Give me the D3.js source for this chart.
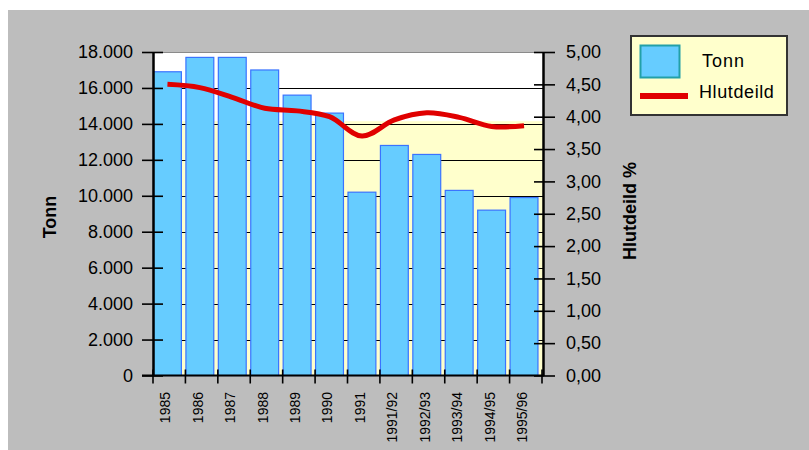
<!DOCTYPE html>
<html>
<head>
<meta charset="utf-8">
<script src="https://cdn.jsdelivr.net/npm/d3@7"></script>
<style>
  html, body { margin: 0; padding: 0; background: #fff; }
  svg { display: block; font-family: Arial, "Liberation Sans", sans-serif; }
</style>
</head>
<body>
<svg id="chart" width="809" height="450"></svg>
<script>
// data
const years = ["1985", "1986", "1987", "1988", "1989", "1990", "1991",
               "1991/92", "1992/93", "1993/94", "1994/95", "1995/96"];
const tonn = [16900, 17700, 17700, 17000, 15600, 14600, 10200,
              12800, 12300, 10300, 9200, 9900];
const hlutdeild = [4.50, 4.45, 4.30, 4.13, 4.09, 4.00, 3.70,
                   3.95, 4.06, 3.99, 3.85, 3.86];
const leftTicks = [0, 2000, 4000, 6000, 8000, 10000, 12000, 14000, 16000, 18000];
const rightTicks = [0, 0.5, 1, 1.5, 2, 2.5, 3, 3.5, 4, 4.5, 5];
const yellowLevel = 14150; // where the pale yellow wall starts

const locale = d3.formatLocale({ decimal: ",", thousands: ".", grouping: [3], currency: ["", " kr"] });
const fmtLeft = locale.format(",.0f");
const fmtRight = locale.format(".2f");

const svg = d3.select("#chart");
const plot = { left: 153, right: 543, top: 52, bottom: 375.5 };

// background: white strips at top/left, gray elsewhere
svg.append("rect").attr("x", 8).attr("y", 10).attr("width", 801).attr("height", 440).attr("fill", "#bdbdbd");

const x = d3.scaleBand().domain(years).range([plot.left, plot.right - 1]).padding(0);
const yL = d3.scaleLinear().domain([0, 18000]).range([plot.bottom, plot.top]);
const yR = d3.scaleLinear().domain([0, 5]).range([plot.bottom, plot.top]);
const bw = x.bandwidth();
const barW = bw * 0.86;
const center = d => x(d) + barW / 2 + 0.5;

// plot walls
svg.append("rect")
  .attr("x", plot.left).attr("y", plot.top)
  .attr("width", plot.right - plot.left).attr("height", plot.bottom - plot.top)
  .attr("fill", "#ffffff");
svg.append("rect")
  .attr("x", plot.left).attr("y", yL(yellowLevel))
  .attr("width", plot.right - plot.left).attr("height", plot.bottom - yL(yellowLevel))
  .attr("fill", "#ffffcc");
svg.append("line")
  .attr("x1", plot.left).attr("x2", plot.right)
  .attr("y1", plot.top + 0.5).attr("y2", plot.top + 0.5)
  .attr("stroke", "#8a8a8a");

// gridlines
svg.append("g").selectAll("line")
  .data(leftTicks.filter(v => v > 0 && v < 18000)).enter()
  .append("line")
    .attr("x1", plot.left).attr("x2", plot.right)
    .attr("y1", d => Math.round(yL(d)) + 0.5).attr("y2", d => Math.round(yL(d)) + 0.5)
    .attr("stroke", "#000").attr("stroke-width", 1.2);

// bars
svg.append("g").selectAll("rect")
  .data(years).enter()
  .append("rect")
    .attr("x", d => x(d) + 0.5)
    .attr("y", (d, i) => yL(tonn[i]))
    .attr("width", barW)
    .attr("height", (d, i) => plot.bottom - yL(tonn[i]))
    .attr("fill", "#66ccff")
    .attr("stroke", "#3a73ff")
    .attr("stroke-width", 1.2);

// share line
const line = d3.line()
  .x((d, i) => center(years[i]))
  .y(d => yR(d))
  .curve(d3.curveCatmullRom);
svg.append("path")
  .datum(hlutdeild)
  .attr("d", line)
  .attr("fill", "none")
  .attr("stroke", "#e00000")
  .attr("stroke-width", 5);

// left axis
const gL = svg.append("g")
  .attr("transform", `translate(${plot.left},0)`)
  .call(d3.axisLeft(yL).tickValues(leftTicks).tickFormat(fmtLeft).tickSize(11).tickPadding(9).tickSizeOuter(0));
gL.select(".domain").attr("stroke", "#000").attr("stroke-width", 2.5);
gL.selectAll(".tick line").attr("x1", -11).attr("x2", 10).attr("stroke", "#000").attr("stroke-width", 1.6);
gL.selectAll(".tick text").attr("font-size", 18).attr("fill", "#000");

// right axis
const gR = svg.append("g")
  .attr("transform", `translate(${plot.right},0)`)
  .call(d3.axisRight(yR).tickValues(rightTicks).tickFormat(fmtRight).tickSize(12).tickPadding(11).tickSizeOuter(0));
gR.select(".domain").attr("stroke", "#000").attr("stroke-width", 2.5);
gR.selectAll(".tick line").attr("x1", -9).attr("x2", 12).attr("stroke", "#000").attr("stroke-width", 1.6);
gR.selectAll(".tick text").attr("font-size", 18).attr("fill", "#000");

// bottom axis
svg.append("line")
  .attr("x1", plot.left - 11).attr("x2", plot.right + 1)
  .attr("y1", plot.bottom).attr("y2", plot.bottom)
  .attr("stroke", "#000").attr("stroke-width", 2);
const bounds = years.map(d => x(d)).concat([x.range()[1]]);
svg.append("g").selectAll("line")
  .data(bounds).enter()
  .append("line")
    .attr("x1", d => d).attr("x2", d => d)
    .attr("y1", plot.bottom - 6).attr("y2", plot.bottom + 8)
    .attr("stroke", "#000").attr("stroke-width", 1.6);
svg.append("g").selectAll("text")
  .data(years).enter()
  .append("text")
    .attr("transform", d => `translate(${center(d) - 2},392) rotate(-90)`)
    .attr("text-anchor", "end")
    .attr("dy", "0.35em")
    .attr("font-size", 14)
    .text(d => d);

// axis titles
svg.append("text")
  .attr("transform", "translate(50,217) rotate(-90)")
  .attr("text-anchor", "middle").attr("dy", "0.35em")
  .attr("font-size", 18).attr("font-weight", "bold")
  .text("Tonn");
svg.append("text")
  .attr("transform", "translate(630,211) rotate(-90)")
  .attr("text-anchor", "middle").attr("dy", "0.35em")
  .attr("font-size", 18).attr("font-weight", "bold")
  .text("Hlutdeild %");

// legend
const lg = svg.append("g").attr("transform", "translate(630,35)");
lg.append("rect").attr("x", 1).attr("y", 1).attr("width", 156).attr("height", 79)
  .attr("fill", "#ffffcc").attr("stroke", "#333").attr("stroke-width", 2);
lg.append("rect").attr("x", 10.5).attr("y", 10.5).attr("width", 39).attr("height", 32)
  .attr("fill", "#66ccff").attr("stroke", "#22a0a8").attr("stroke-width", 2);
lg.append("text").attr("x", 72).attr("y", 26).attr("dy", "0.35em")
  .attr("font-size", 18).attr("letter-spacing", 1).text("Tonn");
lg.append("line").attr("x1", 10).attr("x2", 58).attr("y1", 61).attr("y2", 61)
  .attr("stroke", "#e00000").attr("stroke-width", 6);
lg.append("text").attr("x", 69).attr("y", 57).attr("dy", "0.35em")
  .attr("font-size", 18).attr("letter-spacing", 0.6).text("Hlutdeild");
</script>
</body>
</html>
